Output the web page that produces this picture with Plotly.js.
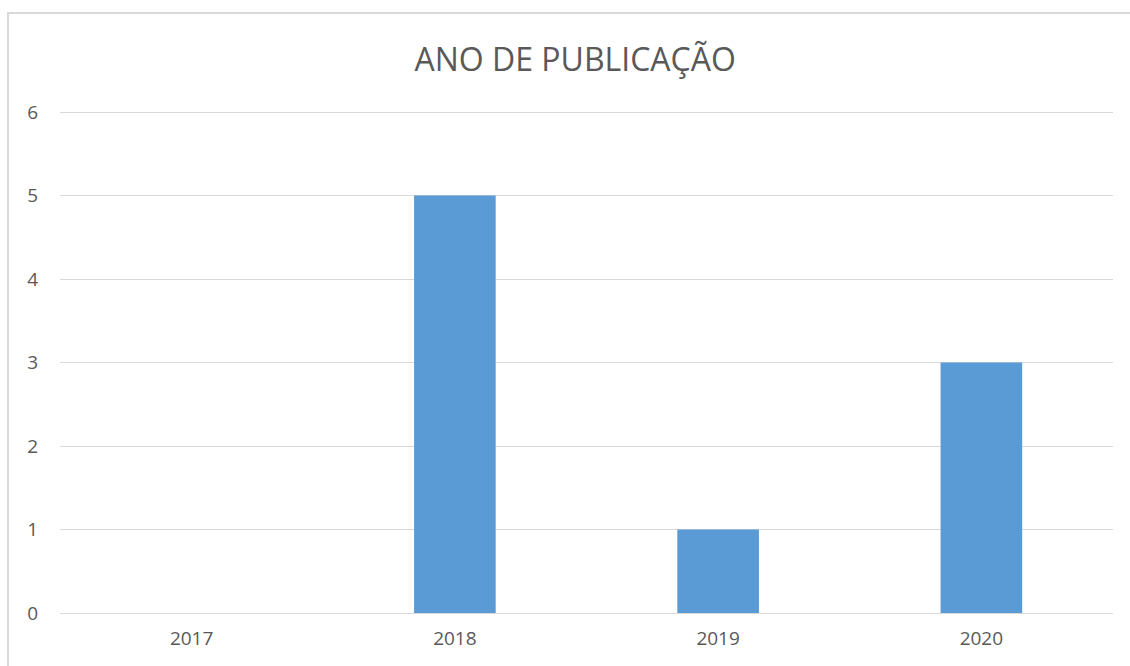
<!DOCTYPE html>
<html>
<head>
<meta charset="utf-8">
<script src="https://cdn.plot.ly/plotly-3.0.1.min.js"></script>
<style>
html,body{margin:0;padding:0;background:#fff;}
#wrap{position:relative;width:1130px;height:666px;overflow:hidden;}
#chart{width:1130px;height:666px;}
#frame{position:absolute;left:7px;top:12px;width:1200px;height:800px;border-left:2px solid #d9d9d9;border-top:2px solid #d9d9d9;pointer-events:none;}
</style>
</head>
<body>
<div id="wrap"><div id="chart"></div><div id="frame"></div></div>
<script>
const categories = ['2017', '2018', '2019', '2020'];
const counts = [0, 5, 1, 3];
const yTicks = [0, 1, 2, 3, 4, 5, 6];
const chartTitle = 'ANO DE PUBLICAÇÃO';

const fontFam = 'Open Sans, Liberation Sans, sans-serif';

Plotly.newPlot('chart', [{
  type: 'bar',
  x: categories,
  y: counts,
  marker: {color: '#5b9bd5'},
  hoverinfo: 'x+y'
}], {
  width: 1130,
  height: 666,
  margin: {l: 60, r: 17, t: 105, b: 53},
  paper_bgcolor: 'rgba(0,0,0,0)',
  plot_bgcolor: 'rgba(0,0,0,0)',
  bargap: 0.69,
  showlegend: false,
  title: {
    text: chartTitle,
    font: {family: fontFam, size: 32, color: '#595959'},
    x: 0.509, xanchor: 'center',
    y: 1 - 60/666, yanchor: 'middle'
  },
  xaxis: {
    type: 'category',
    tickfont: {family: fontFam, size: 19, color: '#595959'},
    showgrid: false,
    showline: true,
    linecolor: '#d9d9d9',
    linewidth: 1,
    ticks: '',
    ticklabelstandoff: 8,
    zeroline: false
  },
  yaxis: {
    range: [0, 6.084],
    tickvals: yTicks,
    ticktext: yTicks.map(String),
    tickfont: {family: fontFam, size: 19, color: '#595959'},
    showgrid: true,
    gridcolor: '#d9d9d9',
    gridwidth: 1,
    zeroline: false,
    showline: false,
    ticks: '',
    ticklabelstandoff: 21
  }
}, {displayModeBar: false, staticPlot: true});
</script>
</body>
</html>
